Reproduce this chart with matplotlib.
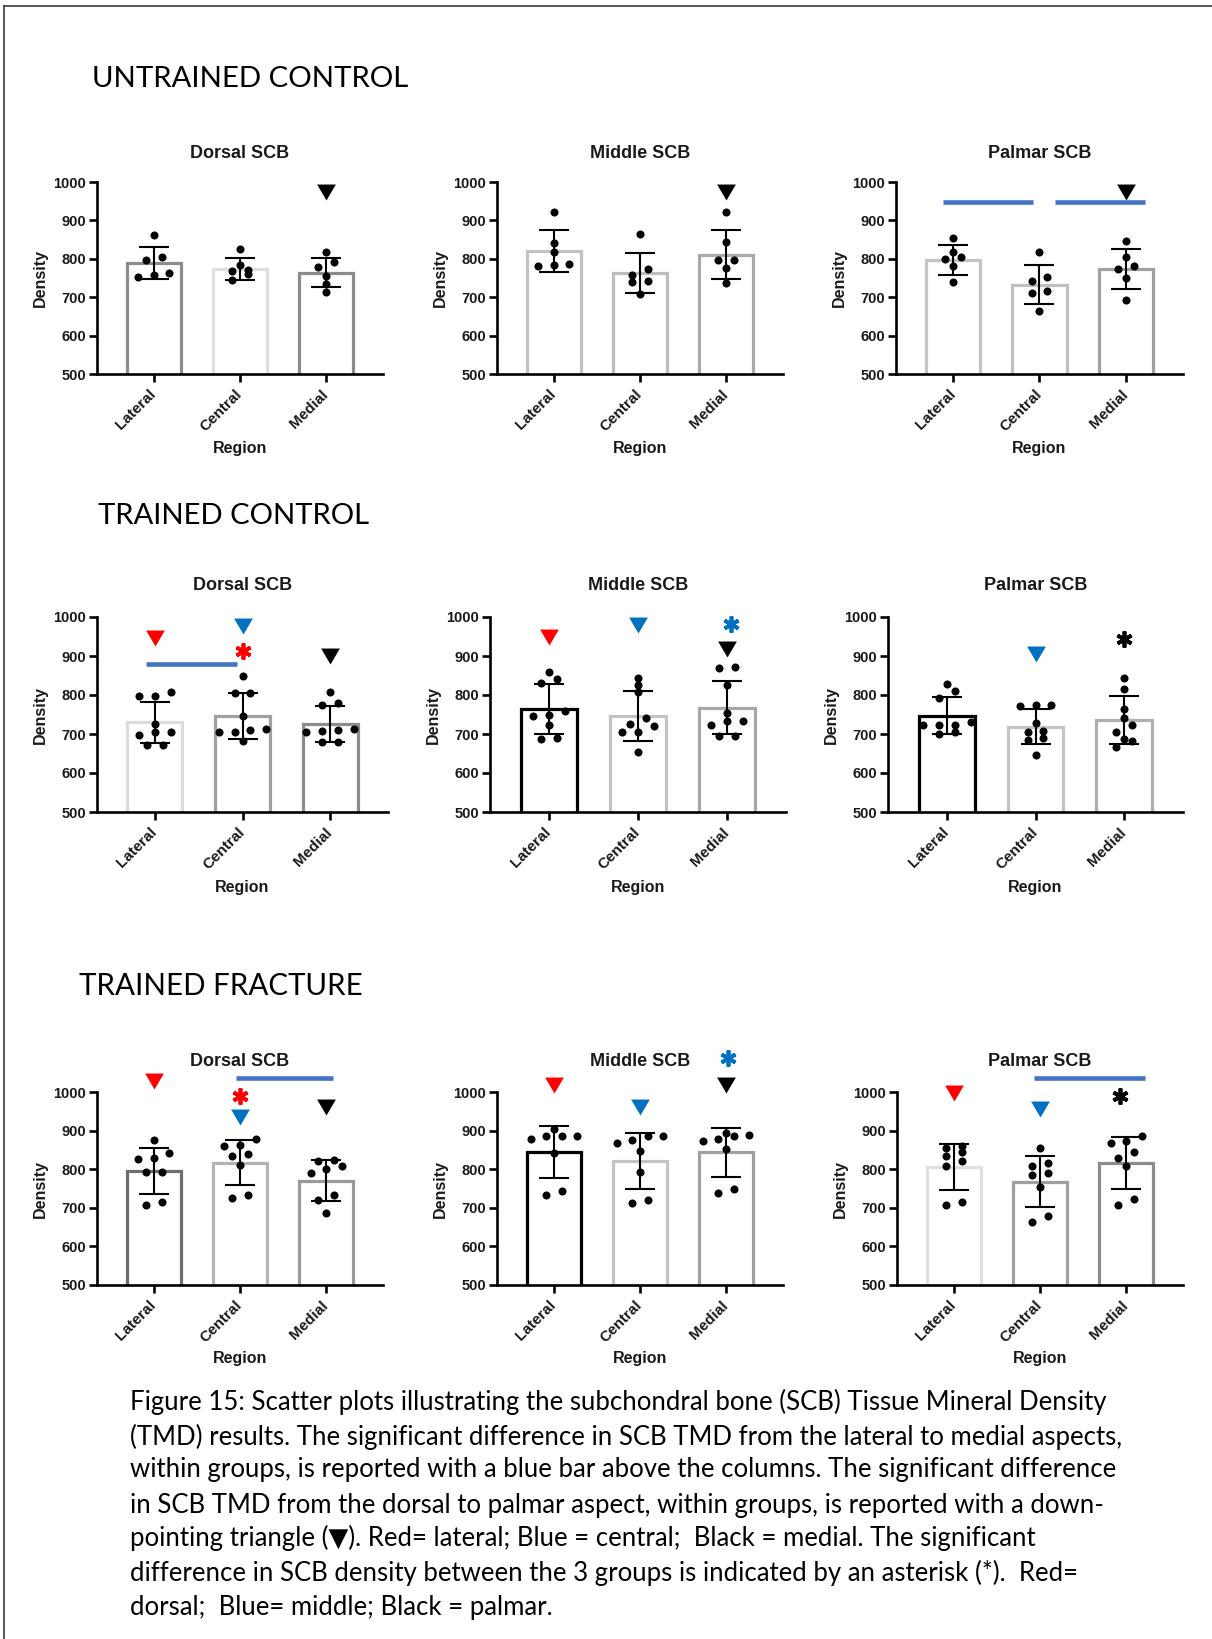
import matplotlib
matplotlib.use("Agg")
import matplotlib.pyplot as plt
from matplotlib.lines import Line2D
import numpy as np

W, H = 1212, 1639

regions = ["Lateral", "Central", "Medial"]
sites = ["Dorsal SCB", "Middle SCB", "Palmar SCB"]
groups = ["UNTRAINED CONTROL", "TRAINED CONTROL", "TRAINED FRACTURE"]

# individual specimens, [site][region]
untrained_points = [
    [[861, 804, 798, 753, 763, 757], [826, 770, 767, 785, 744, 761], [817, 791, 779, 754, 735, 713]],
    [[921, 841, 817, 780, 787, 783], [865, 759, 774, 741, 739, 709], [921, 843, 798, 798, 776, 737]],
    [[854, 805, 818, 799, 780, 739], [819, 752, 743, 715, 711, 663], [847, 805, 773, 780, 750, 694]],
]
trained_points = [
    [[798, 798, 807, 726, 705, 705, 697, 673, 673], [850, 805, 805, 745, 713, 705, 709, 705, 681],
     [807, 774, 779, 707, 714, 705, 709, 679, 679]],
    [[858, 842, 832, 748, 745, 758, 722, 688, 691], [844, 825, 807, 741, 721, 726, 705, 705, 654],
     [868, 872, 825, 734, 734, 754, 724, 694, 696]],
    [[828, 809, 792, 723, 723, 732, 723, 699, 706], [774, 774, 771, 728, 708, 704, 691, 685, 645],
     [844, 815, 764, 742, 723, 706, 667, 686, 682]],
]
fracture_points = [
    [[876, 842, 826, 829, 792, 792, 706, 716], [878, 861, 863, 835, 840, 811, 725, 732],
     [820, 807, 824, 790, 800, 721, 732, 686]],
    [[904, 885, 878, 885, 885, 842, 732, 744], [885, 869, 876, 885, 848, 794, 712, 721],
     [889, 885, 895, 874, 879, 852, 738, 748]],
    [[855, 861, 833, 844, 822, 807, 708, 716], [856, 816, 807, 790, 784, 755, 662, 679],
     [885, 868, 872, 844, 829, 807, 708, 723]],
]

# bar heights (mean) and error bars (SD), [site][region]
untrained_mean = [[789, 774, 764], [820, 763, 811], [798, 733, 773]]
untrained_sd = [[42, 28, 38], [55, 53, 64], [39, 52, 52]]
trained_mean = [[730, 745, 726], [764, 746, 767], [747, 719, 736]]
trained_sd = [[53, 59, 47], [64, 64, 68], [47, 45, 61]]
fracture_mean = [[796, 817, 770], [844, 822, 844], [806, 768, 816]]
fracture_sd = [[59, 59, 53], [68, 73, 64], [60, 67, 67]]

# significance marks: (site, x, y, colour)
untrained_triangles = [(0, 2, 973, "k"), (1, 2, 973, "k"), (2, 2, 975, "k")]
trained_triangles = [(0, 0, 946, "r"), (0, 1, 976, "b"), (0, 2, 899, "k"),
                     (1, 0, 950, "r"), (1, 1, 980, "b"), (1, 2, 918, "k"),
                     (2, 1, 905, "b")]
fracture_triangles = [(0, 0, 1028, "r"), (0, 1, 935, "b"), (0, 2, 961, "k"),
                      (1, 0, 1019, "r"), (1, 1, 961, "b"), (1, 2, 1019, "k"),
                      (2, 0, 997, "r"), (2, 1, 956, "b")]
untrained_stars = []
trained_stars = [(0, 1, 914, "r"), (1, 2.04, 982, "b"), (2, 2, 944, "k")]
fracture_stars = [(0, 1, 989, "r"), (1, 2.02, 1088, "b"), (2, 1.93, 989, "k")]

# lateral-to-medial bars: (site, x0, x1, y)
untrained_lines = [(2, -0.12, 0.92, 948), (2, 1.18, 2.22, 948)]
trained_lines = [(0, -0.1, 0.94, 879)]
fracture_lines = [(0, 0.95, 2.08, 1035), (2, 0.93, 2.22, 1035)]

edge_colors = [
    [["#8c8c8c", "#dedede", "#8c8c8c"], ["#c2c2c2", "#bdbdbd", "#a9a9a9"], ["#c4c4c4", "#c0c0c0", "#a0a0a0"]],
    [["#dcdcdc", "#a0a0a0", "#8c8c8c"], ["#000000", "#c4c4c4", "#a8a8a8"], ["#000000", "#c4c4c4", "#b0b0b0"]],
    [["#6e6e6e", "#b4b4b4", "#9a9a9a"], ["#000000", "#c4c4c4", "#a0a0a0"], ["#e0e0e0", "#a0a0a0", "#8c8c8c"]],
]

mark_colors = {"r": "#ff0000", "b": "#0070c0", "k": "#000000"}
sig_blue = "#4472c4"
ink = "#1a1a1a"

caption = [
    "Figure 15: Scatter plots illustrating the subchondral bone (SCB) Tissue Mineral Density",
    "(TMD) results. The significant difference in SCB TMD from the lateral to medial aspects,",
    "within groups, is reported with a blue bar above the columns. The significant difference",
    "in SCB TMD from the dorsal to palmar aspect, within groups, is reported with a down-",
    "pointing triangle (\u25bc). Red= lateral; Blue = central;  Black = medial. The significant",
    "difference in SCB density between the 3 groups is indicated by an asterisk (*).  Red=",
    "dorsal;  Blue= middle; Black = palmar.",
]

# page layout in pixels
row_y = [(182, 374), (617, 812), (1092, 1285)]
col_x = [[(97, 383), (497, 783), (896, 1183)],
         [(97, 388), (490, 786), (888, 1183)],
         [(97, 383), (497, 783), (897, 1183)]]
title_y = [153, 585, 1062]
region_y = [448, 887, 1358]
heading = [(92, 79, 316), (98, 516, 271), (79, 986, 283)]

plt.rcParams["font.family"] = ["Liberation Sans", "DejaVu Sans"]
plt.rcParams["font.weight"] = "bold"

tri = [(-1, 0.85), (1, 0.85), (0, -0.85), (-1, 0.85)]


def fx(x):
    return x / W


def fy(y):
    return 1 - y / H


def swarm_offsets(values, gap=18.0, step=0.18, max_row=4):
    # group close values into horizontal rows, spread symmetrically about the bar
    values = np.asarray(values, dtype=float)
    order = np.argsort(values, kind="stable")
    rows = []
    for i in order:
        if rows and values[i] - values[rows[-1][0]] < gap and len(rows[-1]) < max_row:
            rows[-1].append(i)
        else:
            rows.append([i])
    offs = np.zeros(len(values))
    for row in rows:
        n = len(row)
        for k, i in enumerate(row):
            offs[i] = (k - (n - 1) / 2) * step
    return offs


def fit_width(fig, t, width_px):
    r = fig.canvas.get_renderer()
    w = t.get_window_extent(r).width
    t.set_fontsize(t.get_fontsize() * width_px / w)
    return t.get_fontsize()


fig = plt.figure(figsize=(W / 100, H / 100), dpi=100)
fig.patch.set_facecolor("white")

all_points = [untrained_points, trained_points, fracture_points]
all_mean = [untrained_mean, trained_mean, fracture_mean]
all_sd = [untrained_sd, trained_sd, fracture_sd]
all_tri = [untrained_triangles, trained_triangles, fracture_triangles]
all_star = [untrained_stars, trained_stars, fracture_stars]
all_lines = [untrained_lines, trained_lines, fracture_lines]

for g in range(3):
    top, bot = row_y[g]
    for s in range(3):
        left, right = col_x[g][s]
        ax = fig.add_axes([fx(left), fy(bot), (right - left) / W, (bot - top) / H])
        xs = np.arange(3)
        ax.bar(xs, all_mean[g][s], width=0.63, color="white",
               edgecolor=edge_colors[g][s], linewidth=2.3, zorder=1)
        ax.errorbar(xs, all_mean[g][s], yerr=all_sd[g][s], fmt="none", ecolor="black",
                    elinewidth=1.5, capsize=10.5, capthick=1.5, zorder=3)
        for i in range(3):
            pts = all_points[g][s][i]
            ax.plot(i + swarm_offsets(pts), pts, "o", color="black", ms=5.8,
                    mew=0, zorder=4, clip_on=False)

        for site, x, y, c in all_tri[g]:
            if site == s:
                ax.plot(x, y, marker=tri, ms=13.5, color=mark_colors[c], mew=0,
                        zorder=5, clip_on=False)
        for site, x, y, c in all_star[g]:
            if site == s:
                ax.plot(x, y, marker=(6, 2, 0), ms=11.5, mew=2.7, color=mark_colors[c],
                        zorder=5, clip_on=False)
        for site, x0, x1, y in all_lines[g]:
            if site == s:
                ax.plot([x0, x1], [y, y], color=sig_blue, lw=3.3, solid_capstyle="butt",
                        zorder=5, clip_on=False)

        ax.set_xlim(-0.66, 2.66)
        ax.set_ylim(500, 1000)
        ax.set_yticks([500, 600, 700, 800, 900, 1000])
        ax.set_xticks(xs)
        ax.set_xticklabels(regions, rotation=45, ha="right", va="center",
                           rotation_mode="anchor", fontsize=11, color=ink)
        for lbl in ax.get_yticklabels():
            lbl.set_fontsize(10.5)
            lbl.set_color(ink)
        ax.tick_params(axis="y", length=6, width=1.9, pad=2)
        ax.tick_params(axis="x", length=6, width=1.9, pad=7)
        for side in ("top", "right"):
            ax.spines[side].set_visible(False)
        for side in ("left", "bottom"):
            ax.spines[side].set_linewidth(1.9)
            ax.spines[side].set_zorder(6)
        ax.set_facecolor("none")

        cx = (left + right) / 2
        fig.text(fx(cx), fy(title_y[g]), sites[s], ha="center", va="center",
                 fontsize=13, color=ink)
        fig.text(fx(cx), fy(region_y[g]), "Region", ha="center", va="center",
                 fontsize=11.5, color=ink)
        fig.text(fx(left - 57), fy((top + bot) / 2), "Density", rotation=90,
                 ha="center", va="center", fontsize=11.5, color=ink)

for (x, y, wpx), name in zip(heading, groups):
    t = fig.text(fx(x), fy(y), name, ha="left", va="center", fontsize=20,
                 fontweight="normal", family=["Lato", "DejaVu Sans"], color="black")
    fit_width(fig, t, wpx)

cap_y = [1402, 1437, 1470, 1505, 1538, 1573, 1607]
cap_texts = []
for y, line in zip(cap_y, caption):
    cap_texts.append(fig.text(fx(130), fy(y), line, ha="left", va="center", fontsize=18,
                              fontweight="normal", family=["Lato", "DejaVu Sans"],
                              color="black"))
size = fit_width(fig, cap_texts[0], 975)
for t in cap_texts[1:]:
    t.set_fontsize(size)

# page frame
fig.add_artist(Line2D([fx(4), fx(W)], [fy(6), fy(6)], color="#3a3a3a", lw=1.2))
fig.add_artist(Line2D([fx(4), fx(4)], [fy(6), 0], color="#3a3a3a", lw=1.2))

fig.savefig("out.png", dpi=100, facecolor="white")
